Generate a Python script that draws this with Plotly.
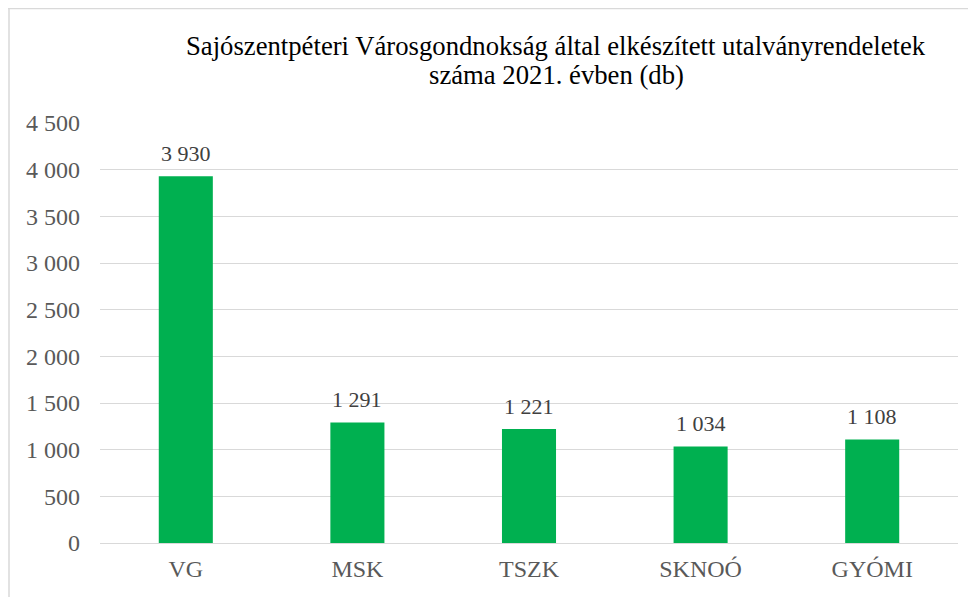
import plotly.graph_objects as go

categories = ["VG", "MSK", "TSZK", "SKNOÓ", "GYÓMI"]
values = [3930, 1291, 1221, 1034, 1108]
tick_values = [0, 500, 1000, 1500, 2000, 2500, 3000, 3500, 4000, 4500]

title_lines = ["Sajószentpéteri Városgondnokság által elkészített utalványrendeletek",
               "száma 2021. évben (db)"]

SERIF = "Liberation Serif, Times New Roman, serif"

W, H = 968, 589
ml, mr, mt, mb = 92, 18, 115, 54
pw, ph = W - ml - mr, H - mt - mb


def paper_x(px):
    return (px - ml) / pw


def paper_y(py):
    return 1 + (mt - py) / ph


fig = go.Figure(go.Bar(
    x=categories, y=values,
    marker=dict(color="#00B050", line=dict(width=0)),
    hoverinfo="x+y",
))

annotations = [
    dict(x=c, y=v, xref="x", yref="y", text=f"{v:,}".replace(",", " "),
         showarrow=False, yanchor="middle", yshift=23,
         font=dict(family=SERIF, size=22, color="#404040"))
    for c, v in zip(categories, values)
]
for line, py in zip(title_lines, [38, 67]):
    annotations.append(dict(
        x=paper_x(548), y=paper_y(py), xref="paper", yref="paper",
        text=line, showarrow=False, xanchor="center", yanchor="middle",
        font=dict(family=SERIF, size=26.7, color="#000000")))

fig.update_layout(
    width=W, height=H,
    margin=dict(l=ml, r=mr, t=mt, b=mb),
    paper_bgcolor="white", plot_bgcolor="white",
    separators=", ",
    bargap=0.685,
    showlegend=False,
    font=dict(family=SERIF, color="#595959"),
    xaxis=dict(showgrid=False, showline=False, zeroline=False, ticks="",
               tickfont=dict(family=SERIF, size=24, color="#595959"),
               ticklabelstandoff=9),
    yaxis=dict(range=[0, 4500], tickvals=tick_values, tickformat=",",
               showgrid=True, gridcolor="#D9D9D9", gridwidth=1.3,
               zeroline=True, zerolinecolor="#D9D9D9", zerolinewidth=1.3,
               showline=False, ticks="",
               tickfont=dict(family=SERIF, size=24, color="#595959"),
               ticklabelstandoff=19),
    annotations=annotations,
    shapes=[
        dict(type="line", xref="paper", yref="paper",
             x0=paper_x(0), x1=paper_x(W + 40),
             y0=paper_y(0.5), y1=paper_y(0.5),
             line=dict(color="#D9D9D9", width=1.5)),
        dict(type="line", xref="paper", yref="paper",
             x0=paper_x(1), x1=paper_x(1),
             y0=paper_y(0), y1=paper_y(H + 40),
             line=dict(color="#D9D9D9", width=1.5)),
    ],
)

fig.write_html("out.html")
